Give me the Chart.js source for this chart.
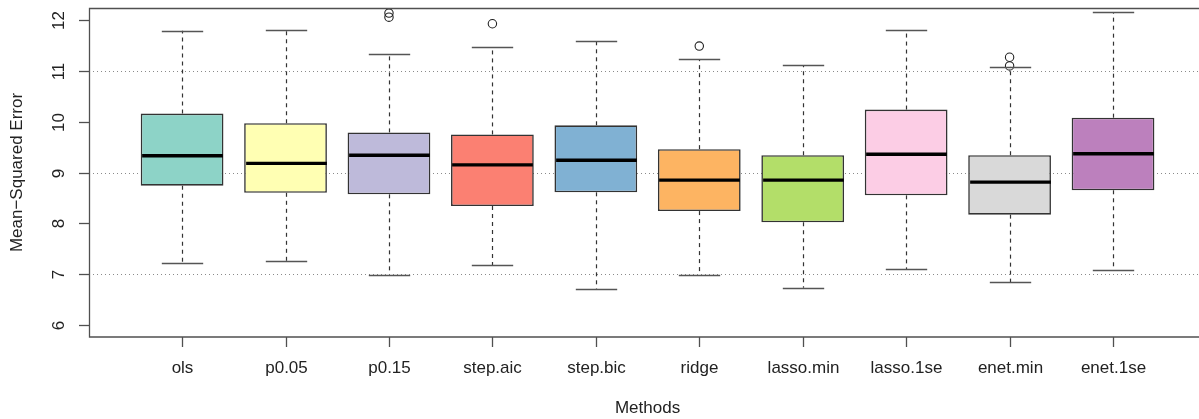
<!DOCTYPE html>
<html>
<head>
<meta charset="utf-8">
<script src="https://cdn.jsdelivr.net/npm/chart.js@4/dist/chart.umd.min.js"></script>
<style>
  html, body { margin: 0; padding: 0; background: #ffffff; }
  #wrap { width: 1199px; height: 419px; position: relative; }
</style>
</head>
<body>
<div id="wrap"><canvas id="chart" width="1199" height="419"></canvas></div>
<script>
// Test-set mean-squared error of each fitting method
const methods = ['ols', 'p0.05', 'p0.15', 'step.aic', 'step.bic', 'ridge', 'lasso.min', 'lasso.1se', 'enet.min', 'enet.1se'];
const lowerWhisker = [7.21, 7.25, 6.99, 7.17, 6.71, 6.98, 6.73, 7.10, 6.84, 7.07];
const quartile1    = [8.74, 8.60, 8.57, 8.34, 8.61, 8.24, 8.02, 8.55, 8.17, 8.65];
const medians      = [9.33, 9.18, 9.34, 9.15, 9.24, 8.85, 8.85, 9.36, 8.81, 9.37];
const quartile3    = [10.16, 9.97, 9.79, 9.75, 9.93, 9.46, 9.34, 10.24, 9.34, 10.08];
const upperWhisker = [11.79, 11.80, 11.34, 11.47, 11.59, 11.23, 11.11, 11.80, 11.08, 12.16];
const outlierMethod = ['p0.15', 'p0.15', 'step.aic', 'ridge', 'enet.min', 'enet.min'];
const outlierValue  = [12.06, 12.14, 11.93, 11.49, 11.10, 11.27];
const boxColors = ['#8DD3C7', '#FFFFB3', '#BEBADA', '#FB8072', '#80B1D3', '#FDB462', '#B3DE69', '#FCCDE5', '#D9D9D9', '#BC80BD'];
const yTickValues = [6, 7, 8, 9, 10, 11, 12];
const gridValues = [7, 9, 11];
const xTitle = 'Methods';
const yTitle = 'Mean\u2212Squared Error';

const FONT = '"Liberation Sans", Arial, sans-serif';
const BOX_WIDTH = 0.8;     // in category units
const CAP_WIDTH = 0.4;

const positions = methods.map((m, i) => i + 1);
const boxData = methods.map((m, i) => ({ x: positions[i], y: [quartile1[i], quartile3[i]] }));
const outlierData = outlierMethod.map((m, i) => ({ x: methods.indexOf(m) + 1, y: outlierValue[i] }));

function line(ctx, x1, y1, x2, y2) {
  ctx.beginPath(); ctx.moveTo(x1, y1); ctx.lineTo(x2, y2); ctx.stroke();
}

const boxplotDecor = {
  id: 'boxplotDecor',
  beforeDatasetsDraw(chart) {
    const { ctx, chartArea: a, scales: { y } } = chart;
    ctx.save();
    ctx.strokeStyle = '#8a8a8a';
    ctx.lineWidth = 1;
    ctx.setLineDash([1, 3]);
    gridValues.forEach(v => {
      const py = Math.round(y.getPixelForValue(v)) + 0.5;
      line(ctx, a.left, py, chart.width, py);
    });
    ctx.restore();
  },
  afterDatasetsDraw(chart) {
    const { ctx, chartArea: a, scales: { x, y } } = chart;
    const unit = x.getPixelForValue(2) - x.getPixelForValue(1);
    ctx.save();
    methods.forEach((m, i) => {
      const cx = Math.round(x.getPixelForValue(positions[i])) + 0.5;
      const half = unit * BOX_WIDTH / 2;
      const capHalf = unit * CAP_WIDTH / 2;
      // dashed whiskers
      ctx.strokeStyle = '#333333';
      ctx.lineWidth = 1.2;
      ctx.setLineDash([4, 4]);
      line(ctx, cx, y.getPixelForValue(quartile3[i]), cx, y.getPixelForValue(upperWhisker[i]));
      line(ctx, cx, y.getPixelForValue(quartile1[i]), cx, y.getPixelForValue(lowerWhisker[i]));
      // whisker caps
      ctx.setLineDash([]);
      ctx.strokeStyle = '#555555';
      ctx.lineWidth = 1.3;
      const yt = Math.round(y.getPixelForValue(upperWhisker[i])) + 0.5;
      const yb = Math.round(y.getPixelForValue(lowerWhisker[i])) + 0.5;
      line(ctx, cx - capHalf, yt, cx + capHalf, yt);
      line(ctx, cx - capHalf, yb, cx + capHalf, yb);
      // median
      ctx.strokeStyle = '#000000';
      ctx.lineWidth = 3.4;
      const ym = y.getPixelForValue(medians[i]);
      line(ctx, cx - half + 1, ym, cx + half - 1, ym);
    });

    // frame (open on the right, where the plot region runs past the canvas)
    ctx.strokeStyle = '#505050';
    ctx.lineWidth = 1.3;
    ctx.beginPath();
    ctx.moveTo(chart.width + 5, a.top + 0.5);
    ctx.lineTo(a.left + 0.5, a.top + 0.5);
    ctx.lineTo(a.left + 0.5, a.bottom);
    ctx.lineTo(chart.width + 5, a.bottom);
    ctx.stroke();

    // y axis ticks and rotated labels
    ctx.fillStyle = '#222222';
    ctx.font = '17px ' + FONT;
    ctx.textAlign = 'center';
    ctx.textBaseline = 'middle';
    yTickValues.forEach(v => {
      const py = Math.round(y.getPixelForValue(v)) + 0.5;
      line(ctx, a.left - 10, py, a.left, py);
      ctx.save();
      ctx.translate(59, py);
      ctx.rotate(-Math.PI / 2);
      ctx.fillText(String(v), 0, 0);
      ctx.restore();
    });

    // x axis ticks and labels
    methods.forEach((m, i) => {
      const px = Math.round(x.getPixelForValue(positions[i])) + 0.5;
      line(ctx, px, a.bottom, px, a.bottom + 10);
      ctx.fillText(m, px, 368);
    });

    // axis titles
    ctx.fillText(xTitle, (a.left + x.getPixelForValue(10.9)) / 2, 408);
    ctx.save();
    ctx.translate(17, (a.top + a.bottom) / 2);
    ctx.rotate(-Math.PI / 2);
    ctx.fillText(yTitle, 0, 0);
    ctx.restore();
    ctx.restore();
  }
};

new Chart(document.getElementById('chart'), {
  data: {
    datasets: [
      {
        type: 'bar',
        data: boxData,
        backgroundColor: boxColors,
        borderColor: '#333333',
        borderWidth: 1.6,
        borderSkipped: false,
        categoryPercentage: 1.0,
        barPercentage: BOX_WIDTH,
        order: 2
      },
      {
        type: 'scatter',
        data: outlierData,
        pointStyle: 'circle',
        pointRadius: 4.2,
        backgroundColor: 'rgba(0,0,0,0)',
        borderColor: '#222222',
        borderWidth: 1.1,
        order: 1
      }
    ]
  },
  options: {
    responsive: false,
    animation: false,
    devicePixelRatio: 1,
    layout: { padding: { left: 89, top: 8, right: 0, bottom: 82 } },
    plugins: { legend: { display: false }, tooltip: { enabled: false } },
    scales: {
      x: {
        type: 'linear',
        display: false,
        offset: false,
        min: 0.1,
        max: 10.78,
        afterBuildTicks(scale) { scale.ticks = positions.map(v => ({ value: v })); }
      },
      y: {
        type: 'linear',
        display: false,
        min: 5.76,
        max: 12.24
      }
    }
  },
  plugins: [boxplotDecor]
});
</script>
</body>
</html>
